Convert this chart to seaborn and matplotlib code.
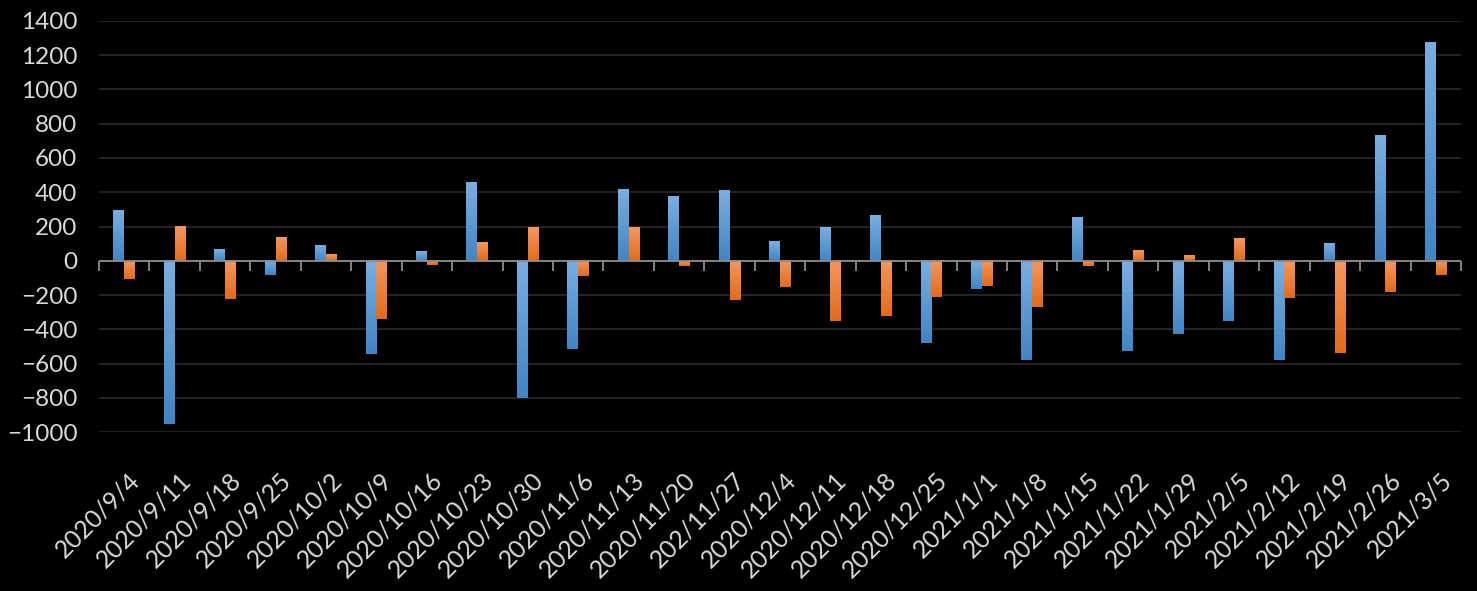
import numpy as np
import pandas as pd
import seaborn as sns
import matplotlib.pyplot as plt
import matplotlib.transforms as mtransforms
from matplotlib.colors import to_rgb

# weekly values
dates = ["2020/9/4", "2020/9/11", "2020/9/18", "2020/9/25", "2020/10/2", "2020/10/9",
         "2020/10/16", "2020/10/23", "2020/10/30", "2020/11/6", "2020/11/13", "2020/11/20",
         "202/11/27", "2020/12/4", "2020/12/11", "2020/12/18", "2020/12/25", "2021/1/1",
         "2021/1/8", "2021/1/15", "2021/1/22", "2021/1/29", "2021/2/5", "2021/2/12",
         "2021/2/19", "2021/2/26", "2021/3/5"]
series_a = [296, -953, 68, -84, 91, -545, 56, 459, -800, -516, 419, 378, 413, 115,
            197, 267, -481, -164, -578, 255, -526, -426, -350, -578, 103, 734, 1277]
series_b = [-105, 202, -224, 138, 39, -341, -25, 109, 197, -90, 197, -28, -230, -154,
            -352, -323, -212, -146, -269, -29, 62, 33, 132, -216, -537, -181, -82]

df = pd.DataFrame({
    "date": dates * 2,
    "value": series_a + series_b,
    "series": ["A"] * len(dates) + ["B"] * len(dates),
})

sns.set_style("dark")
plt.rcParams["font.family"] = ["Lato", "DejaVu Sans"]
text_col = "#D9D9D9"

# excel-style vertical gradients (light top -> darker bottom)
grad = {
    "#5B9BD5": ("#7AAEE2", "#3F86C5"),
    "#F07F2F": ("#F5975E", "#E36B17"),
}

fig = plt.figure(figsize=(14.77, 5.91), dpi=100, facecolor="black")
ax = fig.add_axes([0.067, 0.269, 0.9222, 0.6955])
ax.set_facecolor("black")

sns.barplot(data=df, x="date", y="value", hue="series", order=dates,
            palette=list(grad.keys()), width=0.43, legend=False,
            saturation=1, linewidth=0, edgecolor="none", ax=ax, zorder=3)

# replace flat bars with gradient images
for p in list(ax.patches):
    x0, y0 = p.get_x(), p.get_y()
    w, h = p.get_width(), p.get_height()
    if w == 0 or h == 0:
        continue
    fc = "#%02X%02X%02X" % tuple(int(round(c * 255)) for c in p.get_facecolor()[:3])
    top, bot = grad.get(fc, (fc, fc))
    t = np.linspace(0, 1, 64)[:, None]
    img = (1 - t) * np.array(to_rgb(top)) + t * np.array(to_rgb(bot))
    ax.imshow(img[:, None, :], extent=[x0, x0 + w, min(y0, y0 + h), max(y0, y0 + h)],
              aspect="auto", origin="upper", zorder=3, interpolation="bilinear")
    p.set_visible(False)

ax.set_ylim(-1000, 1400)
ax.set_xlim(-0.5, len(dates) - 0.5)
ax.set_yticks(np.arange(-1000, 1401, 200))
ax.yaxis.grid(True, color="#262626", linewidth=1.3, zorder=0)
ax.xaxis.grid(False)
for s in ax.spines.values():
    s.set_visible(False)

# zero line with category-boundary tick marks
ax.axhline(0, color="#8C8C8C", linewidth=1.3, zorder=4)
ax.vlines(np.arange(len(dates) + 1) - 0.5, -62, 0, color="#8C8C8C",
          linewidth=1.3, zorder=4, clip_on=False)

ax.set_xlabel("")
ax.set_ylabel("")
ax.tick_params(axis="y", length=0, pad=15.5, labelsize=17.5, labelcolor=text_col)
ax.tick_params(axis="x", length=0, pad=26, labelsize=17.8, labelcolor=text_col)
shift = mtransforms.ScaledTranslation(0.04, 0, fig.dpi_scale_trans)
for lbl in ax.get_xticklabels():
    lbl.set_rotation(45)
    lbl.set_ha("right")
    lbl.set_va("top")
    lbl.set_rotation_mode("anchor")
    lbl.set_transform(lbl.get_transform() + shift)

fig.savefig("out.png", dpi=100, facecolor="black")
